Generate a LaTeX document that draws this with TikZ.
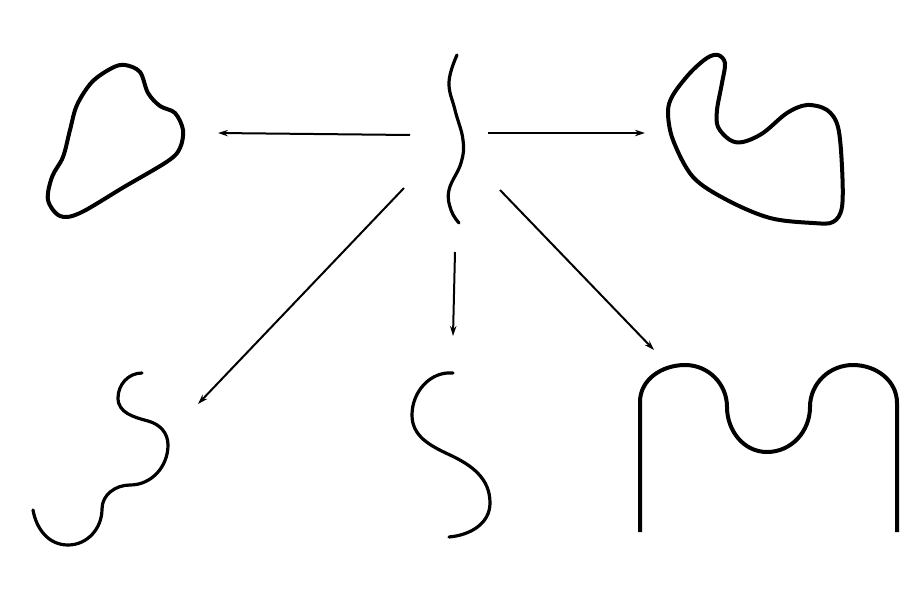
\documentclass[tikz,border=0pt]{standalone}
\usepackage{xcolor}
\usepackage{tikz}
\usetikzlibrary{arrows.meta}

\begin{document}
\begin{tikzpicture}[x=0.5pt, y=0.5pt,
    outline/.style={line width=2pt, line join=round},
    curl/.style={line width=1.6pt, line cap=round},
    pointer/.style={line width=1pt, -{Stealth[length=5pt, width=3.2pt]}}]
  \useasboundingbox (0,0) rectangle (911,607);

  % wavy source line in the middle
  \draw[curl] plot[smooth, tension=0.7] coordinates {(457,552) (449,525) (455,497)
    (463,467) (461,444) (449,417) (451,397) (459,384)};

  % closed shapes
  \draw[outline] plot[smooth cycle, tension=0.55] coordinates {(125,542) (140,535)
    (148,514) (160,501) (175,494) (183,477) (180,459) (168,446) (124,420) (80,394)
    (60,391) (48,407) (52,430) (63,450) (70,477) (77,502) (92,525) (112,539)};
  \draw[outline] plot[smooth cycle, tension=0.55] coordinates {(718,552) (725,544)
    (722,524) (717,497) (718,480) (730,467) (743,465) (763,474) (787,494) (807,502)
    (827,497) (838,480) (842,440) (842,400) (833,385) (813,384) (770,389) (727,407)
    (693,430) (673,467) (668,495) (673,512) (690,534) (707,549)};

  % open shapes
  \draw[curl] (142,234) to[out=180,in=90] (118,209) to[out=-90,in=165] (148,186)
    to[out=-15,in=90] (168,162) to[out=-90,in=0] (130,122) to[out=180,in=90] (102,98)
    to[out=-90,in=0] (68,62) to[out=180,in=-80] (33,97);
  \draw[curl] (453,234) to[out=175,in=90] (412,192) to[out=-90,in=155] (450,152)
    to[out=-25,in=90] (490,104) to[out=-90,in=5] (449,70);
  \draw[outline] (640,75) -- (640,205) to[out=90,in=180] (685,242)
    to[out=0,in=90] (727,200) to[out=-90,in=180] (767,155) to[out=0,in=-90] (810,200)
    to[out=90,in=180] (853,242) to[out=0,in=90] (897,204) -- (897,75);

  \coordinate (wave-w) at (410,472);
  \coordinate (wave-e) at (488,474);
  \coordinate (wave-sw) at (404,419);
  \coordinate (wave-s) at (455,355);
  \coordinate (wave-se) at (500,417);
  \coordinate (blob-w) at (218,474);
  \coordinate (blob-e) at (645,474);
  \coordinate (curl-sw) at (198,203);
  \coordinate (curl-s) at (453,271);
  \coordinate (arch-se) at (654,257);

  \draw[pointer] (wave-w) -- (blob-w);
  \draw[pointer] (wave-e) -- (blob-e);
  \draw[pointer] (wave-sw) -- (curl-sw);
  \draw[pointer] (wave-s) -- (curl-s);
  \draw[pointer] (wave-se) -- (arch-se);
\end{tikzpicture}
\end{document}
